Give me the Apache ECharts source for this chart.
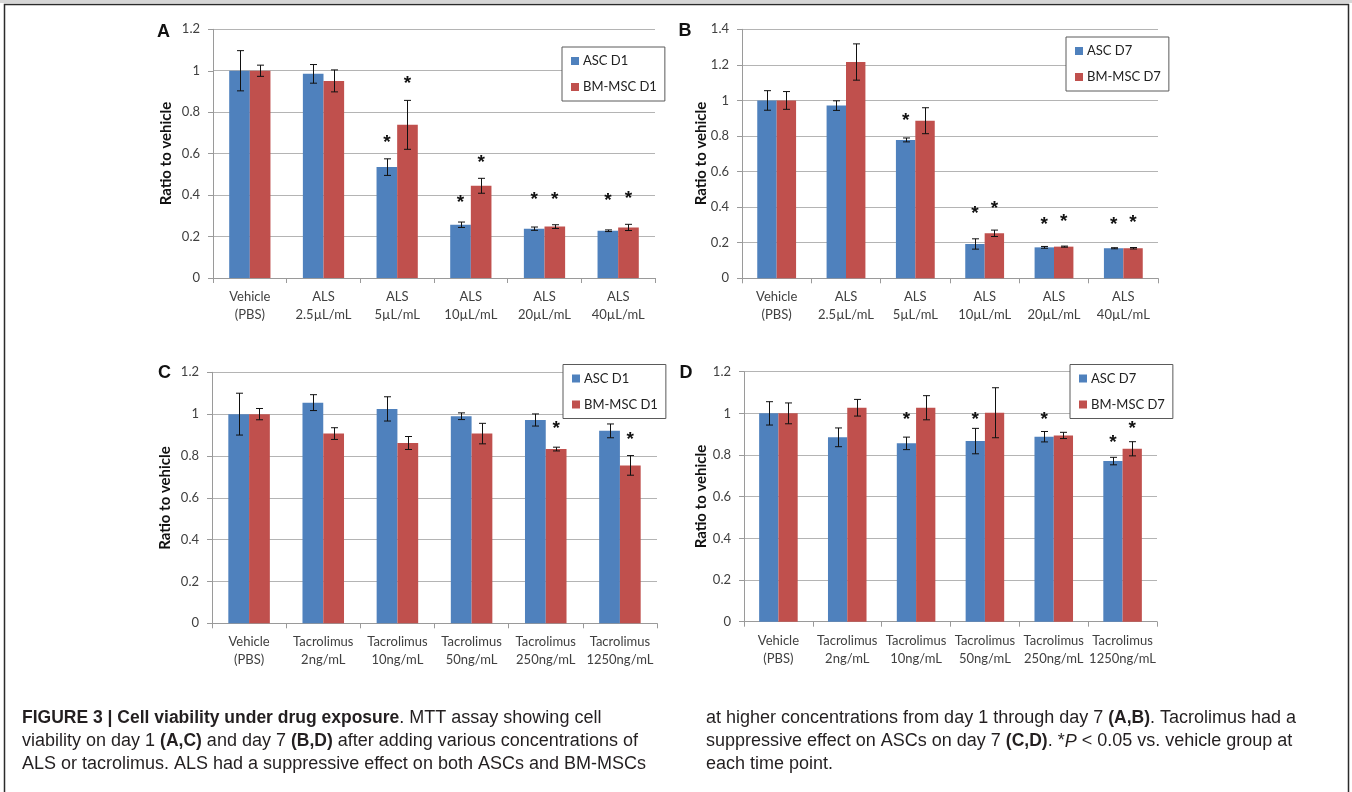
<!DOCTYPE html>
<html>
<head>
<meta charset="utf-8">
<script src="https://cdn.jsdelivr.net/npm/echarts@6/dist/echarts.min.js"></script>
<style>
html,body{margin:0;padding:0;background:#fff;}
#c{width:1352px;height:792px;}
</style>
</head>
<body>
<div id="c"></div>
<script>
// ---------- DATA ----------
const catsALS = ["Vehicle\n(PBS)", "ALS\n2.5µL/mL", "ALS\n5µL/mL", "ALS\n10µL/mL", "ALS\n20µL/mL", "ALS\n40µL/mL"];
const catsTac = ["Vehicle\n(PBS)", "Tacrolimus\n2ng/mL", "Tacrolimus\n10ng/mL", "Tacrolimus\n50ng/mL", "Tacrolimus\n250ng/mL", "Tacrolimus\n1250ng/mL"];

// Panel A (ALS, day 1)
const aASC    = [1.000, 0.985, 0.535, 0.257, 0.238, 0.228];
const aASCErr = [0.097, 0.045, 0.040, 0.013, 0.008, 0.004];
const aBM     = [1.000, 0.951, 0.739, 0.445, 0.248, 0.244];
const aBMErr  = [0.027, 0.053, 0.118, 0.036, 0.009, 0.015];
const aASCStar = [null, null, 0.670, 0.382, 0.397, 0.390];
const aBMStar  = [null, null, 0.956, 0.577, 0.397, 0.400];

// Panel B (ALS, day 7)
const bASC    = [1.000, 0.971, 0.778, 0.193, 0.174, 0.169];
const bASCErr = [0.055, 0.027, 0.011, 0.029, 0.005, 0.003];
const bBM     = [1.000, 1.216, 0.886, 0.253, 0.178, 0.169];
const bBMErr  = [0.050, 0.102, 0.073, 0.018, 0.003, 0.004];
const bASCStar = [null, null, 0.909, 0.388, 0.324, 0.322];
const bBMStar  = [null, null, null, 0.412, 0.341, 0.332];

// Panel C (Tacrolimus, day 1)
const cASC    = [1.000, 1.055, 1.025, 0.990, 0.972, 0.920];
const cASCErr = [0.100, 0.038, 0.058, 0.016, 0.029, 0.033];
const cBM     = [1.000, 0.907, 0.862, 0.907, 0.833, 0.755];
const cBMErr  = [0.027, 0.028, 0.031, 0.049, 0.009, 0.047];
const cASCStar = [null, null, null, null, null, null];
const cBMStar  = [null, null, null, null, 0.948, 0.897];

// Panel D (Tacrolimus, day 7)
const dASC    = [1.000, 0.885, 0.856, 0.867, 0.888, 0.771];
const dASCErr = [0.056, 0.045, 0.030, 0.061, 0.025, 0.018];
const dBM     = [1.000, 1.027, 1.027, 1.003, 0.894, 0.830];
const dBMErr  = [0.050, 0.040, 0.058, 0.120, 0.015, 0.034];
const dASCStar = [null, null, 0.987, 0.987, 0.987, 0.877];
const dBMStar  = [null, null, null, null, null, 0.944];

const yMaxA = 1.2, yMaxB = 1.4, yMaxC = 1.2, yMaxD = 1.2;
const yStep = 0.2;

const namesD1 = ["ASC D1", "BM-MSC D1"];
const namesD7 = ["ASC D7", "BM-MSC D7"];
const panelLetters = ["A", "B", "C", "D"];
const yTitle = "Ratio to vehicle";

// ---------- STYLE / LAYOUT ----------
const BLUE = "#4F81BD", RED = "#C0504D";
const FONT = "Lato";
const panels = [
  {cats: catsALS, asc: aASC, ascE: aASCErr, bm: aBM, bmE: aBMErr, sA: aASCStar, sB: aBMStar, max: yMaxA, names: namesD1,
   grid: {left: 213, top: 29.3, width: 442, height: 248.7}, legend: {left: 562, top: 47},
   letter: [163.5, 32], title: [166.5, 153.5]},
  {cats: catsALS, asc: bASC, ascE: bASCErr, bm: bBM, bmE: bBMErr, sA: bASCStar, sB: bBMStar, max: yMaxB, names: namesD7,
   grid: {left: 742, top: 29.3, width: 416, height: 249}, legend: {left: 1066, top: 37},
   letter: [685, 31.5], title: [701, 153.5]},
  {cats: catsTac, asc: cASC, ascE: cASCErr, bm: cBM, bmE: cBMErr, sA: cASCStar, sB: cBMStar, max: yMaxC, names: namesD1,
   grid: {left: 212, top: 372.3, width: 445, height: 251}, legend: {left: 563, top: 364.5},
   letter: [164.5, 373.5], title: [165, 498]},
  {cats: catsTac, asc: dASC, ascE: dASCErr, bm: dBM, bmE: dBMErr, sA: dASCStar, sB: dBMStar, max: yMaxD, names: namesD7,
   grid: {left: 744, top: 371.7, width: 413, height: 250}, legend: {left: 1070, top: 364.5},
   letter: [686, 373], title: [701, 496.5]}
];

const grids = [], xAxes = [], yAxes = [], legends = [], series = [], graphics = [];

function errData(vals, errs) {
  return vals.map((v, i) => [i, v - errs[i], v + errs[i]]);
}
function starData(stars) {
  const out = [];
  stars.forEach((s, i) => { if (s !== null) out.push([i, s]); });
  return out;
}
function errRender(sign) {
  return function (params, api) {
    const idx = api.value(0);
    const band = api.size([1, 0])[0];
    const off = sign * band * 0.14;
    const pHi = api.coord([idx, api.value(2)]);
    const pLo = api.coord([idx, api.value(1)]);
    const x = Math.round(pHi[0] + off) + 0.5;
    const cap = 3.5;
    const st = {stroke: "#111", lineWidth: 1};
    return {type: "group", children: [
      {type: "line", shape: {x1: x, y1: pHi[1], x2: x, y2: pLo[1]}, style: st},
      {type: "line", shape: {x1: x - cap, y1: pHi[1], x2: x + cap, y2: pHi[1]}, style: st},
      {type: "line", shape: {x1: x - cap, y1: pLo[1], x2: x + cap, y2: pLo[1]}, style: st}
    ]};
  };
}
function starRender(sign) {
  return function (params, api) {
    const idx = api.value(0);
    const band = api.size([1, 0])[0];
    const p = api.coord([idx, api.value(1)]);
    return {type: "text", x: p[0] + sign * band * 0.14, y: p[1] + 4,
      style: {text: "*", fontSize: 19, fontWeight: "bold", fontFamily: "Liberation Sans", fill: "#111",
        align: "center", verticalAlign: "middle"}};
  };
}

panels.forEach((p, k) => {
  grids.push(Object.assign({containLabel: false}, p.grid));
  xAxes.push({
    type: "category", gridIndex: k, data: p.cats,
    axisLine: {lineStyle: {color: "#9a9a9a"}},
    axisTick: {show: true, length: 5, interval: 0, lineStyle: {color: "#9a9a9a"}},
    axisLabel: {interval: 0, color: "#404040", fontSize: 13, lineHeight: 18, margin: 10, fontFamily: FONT}
  });
  yAxes.push({
    type: "value", gridIndex: k, min: 0, max: p.max, interval: yStep,
    axisLine: {show: true, lineStyle: {color: "#9a9a9a"}},
    axisTick: {show: true, length: 5, lineStyle: {color: "#9a9a9a"}},
    splitLine: {lineStyle: {color: "#b4b4b4"}},
    axisLabel: {color: "#404040", fontSize: 13, margin: 13, fontFamily: FONT,
      formatter: v => String(+v.toFixed(1))}
  });
  legends.push({
    data: p.names, orient: "vertical", left: p.legend.left, top: p.legend.top,
    itemWidth: 8, itemHeight: 8, itemGap: 10, icon: "rect",
    padding: [6, 8, 6, 9], borderColor: "#5a5a5a", borderWidth: 1, backgroundColor: "#fff",
    textStyle: {color: "#222", fontSize: 13, lineHeight: 16, fontFamily: FONT, padding: [0, 0, 0, -1]},
    selectedMode: false
  });
  series.push({name: p.names[0], type: "bar", xAxisIndex: k, yAxisIndex: k, data: p.asc,
    itemStyle: {color: BLUE}, barGap: "0%", barCategoryGap: "44%", animation: false});
  series.push({name: p.names[1], type: "bar", xAxisIndex: k, yAxisIndex: k, data: p.bm,
    itemStyle: {color: RED}, barGap: "0%", barCategoryGap: "44%", animation: false});
  series.push({type: "custom", xAxisIndex: k, yAxisIndex: k, data: errData(p.asc, p.ascE),
    renderItem: errRender(-1), z: 5, animation: false, silent: true});
  series.push({type: "custom", xAxisIndex: k, yAxisIndex: k, data: errData(p.bm, p.bmE),
    renderItem: errRender(1), z: 5, animation: false, silent: true});
  series.push({type: "custom", xAxisIndex: k, yAxisIndex: k, data: starData(p.sA),
    renderItem: starRender(-1), z: 6, animation: false, silent: true});
  series.push({type: "custom", xAxisIndex: k, yAxisIndex: k, data: starData(p.sB),
    renderItem: starRender(1), z: 6, animation: false, silent: true});

  graphics.push({type: "text", x: p.letter[0], y: p.letter[1],
    style: {text: panelLetters[k], fontSize: 18, fontWeight: "bold", fontFamily: "Liberation Sans", fill: "#111",
      align: "center", verticalAlign: "middle"}});
  graphics.push({type: "text", x: p.title[0], y: p.title[1], rotation: Math.PI / 2,
    style: {text: yTitle, fontSize: 15, fontWeight: "bold", fontFamily: FONT, fill: "#111",
      align: "center", verticalAlign: "middle"}});
});

// frame
graphics.push({type: "rect", shape: {x: 0, y: 0, width: 1352, height: 3}, style: {fill: "#d6d6d6"}, z: -1});
graphics.push({type: "rect", shape: {x: 4.5, y: 4.5, width: 1344, height: 800},
  style: {fill: null, stroke: "#2b2b2b", lineWidth: 1.5}});

// caption
const capRich = {
  b: {fontWeight: "bold", fontSize: 17.5, fontFamily: "Liberation Sans", fill: "#231f20", lineHeight: 23},
  n: {fontSize: 18, fontFamily: "Liberation Sans", fill: "#231f20", lineHeight: 23},
  i: {fontStyle: "italic", fontSize: 18, fontFamily: "Liberation Sans", fill: "#231f20", lineHeight: 23}
};
graphics.push({type: "text", x: 22, y: 707,
  style: {rich: capRich, fill: "#231f20", lineHeight: 23,
    text: "{b|FIGURE 3 | Cell viability under drug exposure}{n|. MTT assay showing cell}\n" +
          "{n|viability on day 1 }{b|(A,C)}{n| and day 7 }{b|(B,D)}{n| after adding various concentrations of}\n" +
          "{n|ALS or tacrolimus. ALS had a suppressive effect on both ASCs and BM-MSCs}"}});
graphics.push({type: "text", x: 706, y: 707,
  style: {rich: capRich, fill: "#231f20", lineHeight: 23,
    text: "{n|at higher concentrations from day 1 through day 7 }{b|(A,B)}{n|. Tacrolimus had a}\n" +
          "{n|suppressive effect on ASCs on day 7 }{b|(C,D)}{n|. *}{i|P}{n| < 0.05 vs. vehicle group at}\n" +
          "{n|each time point.}"}});

const chart = echarts.init(document.getElementById("c"), null, {renderer: "canvas"});
chart.setOption({
  animation: false,
  backgroundColor: "#fff",
  textStyle: {fontFamily: FONT},
  grid: grids, xAxis: xAxes, yAxis: yAxes, legend: legends, series: series,
  graphic: {elements: graphics}
});
</script>
</body>
</html>
